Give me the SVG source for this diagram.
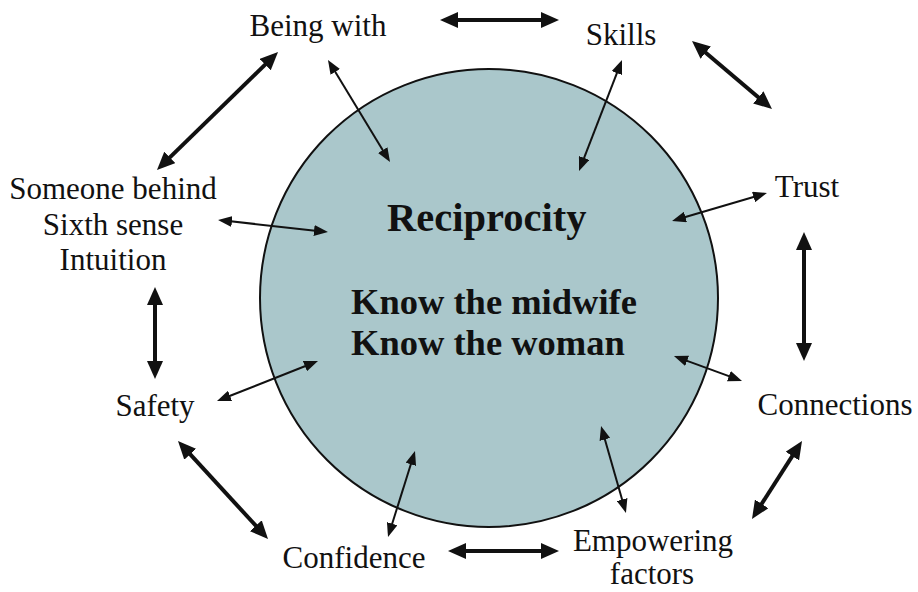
<svg xmlns="http://www.w3.org/2000/svg" width="918" height="592" viewBox="0 0 918 592">
<style>
.lbl{font-family:"Liberation Serif","Times New Roman",serif;font-size:31px;fill:#111;text-anchor:middle}
.ctr{font-family:"Liberation Serif","Times New Roman",serif;font-weight:bold;fill:#111}
.thick{stroke:#111;stroke-width:4;fill:none;marker-start:url(#hb);marker-end:url(#hb)}
.thin{stroke:#111;stroke-width:2;fill:none;marker-start:url(#hs);marker-end:url(#hs)}
</style>
<defs>
<marker id="hb" markerUnits="userSpaceOnUse" markerWidth="18" markerHeight="16" refX="10" refY="8" orient="auto-start-reverse"><path d="M0,0 L18,8 L0,16 z" fill="#111"/></marker>
<marker id="hs" markerUnits="userSpaceOnUse" markerWidth="14" markerHeight="11" refX="8" refY="5.5" orient="auto-start-reverse"><path d="M0,0 L14,5.5 L0,11 z" fill="#111"/></marker>
</defs>
<rect width="918" height="592" fill="#fff"/>
<g id="center">
<circle cx="489" cy="298" r="229" fill="#aac7cb" stroke="#111" stroke-width="2"/>
<text class="ctr" x="387" y="231" font-size="40.5">Reciprocity</text>
<text class="ctr" x="351" y="314" font-size="36.5">Know the midwife</text>
<text class="ctr" x="351" y="355" font-size="36.5">Know the woman</text>
</g>
<g id="connectors">
<line class="thick" x1="448" y1="20" x2="551" y2="20"/>
<line class="thick" x1="698.1" y1="46.2" x2="765.9" y2="103.8"/>
<line class="thick" x1="804" y1="240" x2="804" y2="353"/>
<line class="thick" x1="797.7" y1="447.7" x2="756.3" y2="512.3"/>
<line class="thick" x1="456" y1="551" x2="551" y2="551"/>
<line class="thick" x1="183.4" y1="446.9" x2="262.6" y2="533.1"/>
<line class="thick" x1="155" y1="295" x2="155" y2="371"/>
<line class="thick" x1="272.3" y1="57.6" x2="162.7" y2="164.4"/>
<line class="thin" x1="331.1" y1="65.1" x2="386.9" y2="156.9"/>
<line class="thin" x1="619.8" y1="65.6" x2="581.2" y2="165.4"/>
<line class="thin" x1="761.2" y1="194.7" x2="677.8" y2="219.3"/>
<line class="thin" x1="224" y1="220.6" x2="322" y2="231.4"/>
<line class="thin" x1="222.6" y1="398.8" x2="312.4" y2="363.2"/>
<line class="thin" x1="413.2" y1="456.7" x2="389.8" y2="531.3"/>
<line class="thin" x1="602.7" y1="431.8" x2="624.3" y2="507.2"/>
<line class="thin" x1="679.6" y1="358.1" x2="736.4" y2="378.9"/>
</g>
<g id="being-with"><text class="lbl" x="318" y="36">Being with</text></g>
<g id="skills"><text class="lbl" x="621" y="45">Skills</text></g>
<g id="trust"><text class="lbl" x="807" y="197">Trust</text></g>
<g id="connections"><text class="lbl" x="835" y="415">Connections</text></g>
<g id="empowering"><text class="lbl" x="653" y="551" font-size="30.5">Empowering</text><text class="lbl" x="652" y="584" font-size="30.5">factors</text></g>
<g id="confidence"><text class="lbl" x="354" y="568">Confidence</text></g>
<g id="safety"><text class="lbl" x="155" y="416">Safety</text></g>
<g id="someone"><text class="lbl" x="113" y="199">Someone behind</text><text class="lbl" x="113" y="235">Sixth sense</text><text class="lbl" x="113" y="270">Intuition</text></g>
</svg>
